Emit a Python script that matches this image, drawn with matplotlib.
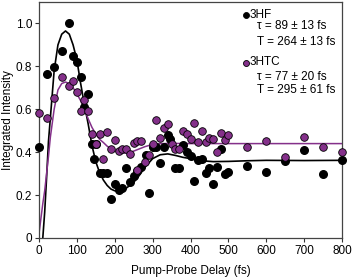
import matplotlib
matplotlib.use("Agg")
import matplotlib.pyplot as plt

plt.rcParams['font.family'] = ['Liberation Sans', 'DejaVu Sans']

# measured points, 3HF (black)
hf_t = [0, 20, 40, 60, 80, 90, 100, 110, 120, 130, 140, 150, 145, 160, 170, 180,
        190, 200, 210, 220, 230, 240, 250, 260, 270, 283, 290, 300, 310, 320, 330,
        340, 347, 360, 370, 380, 390, 400, 410, 420, 430, 440, 450, 460, 470, 480,
        490, 500, 550, 600, 650, 700, 750, 800]
hf_y = [0.425, 0.765, 0.797, 0.87, 1.0, 0.847, 0.82, 0.752, 0.61, 0.672, 0.436, 0.436,
        0.366, 0.304, 0.304, 0.301, 0.18, 0.251, 0.223, 0.231, 0.324, 0.262, 0.287,
        0.312, 0.333, 0.388, 0.208, 0.425, 0.425, 0.35, 0.425, 0.479, 0.462, 0.327,
        0.327, 0.433, 0.401, 0.381, 0.267, 0.363, 0.368, 0.302, 0.324, 0.252, 0.332,
        0.415, 0.297, 0.306, 0.336, 0.306, 0.358, 0.409, 0.298, 0.363]

# measured points, 3HTC (purple)
htc_t = [0, 20, 40, 60, 80, 90, 100, 110, 120, 130, 140, 150, 160, 170, 180, 190,
         200, 210, 220, 230, 240, 250, 260, 260, 270, 280, 290, 300, 310, 320, 330,
         340, 350, 360, 370, 380, 390, 400, 410, 420, 430, 440, 450, 460, 470, 480,
         490, 500, 550, 600, 650, 700, 750, 800]
htc_y = [0.584, 0.557, 0.654, 0.75, 0.707, 0.732, 0.68, 0.592, 0.642, 0.592, 0.487,
         0.437, 0.485, 0.366, 0.496, 0.417, 0.459, 0.407, 0.413, 0.415, 0.392, 0.445,
         0.452, 0.316, 0.453, 0.355, 0.386, 0.44, 0.549, 0.464, 0.515, 0.533, 0.438,
         0.415, 0.415, 0.497, 0.487, 0.462, 0.535, 0.449, 0.499, 0.446, 0.467, 0.46,
         0.399, 0.49, 0.455, 0.482, 0.422, 0.453, 0.378, 0.471, 0.422, 0.399]

# fit curves
hf_fit_t = [10, 15, 20, 25, 30, 40, 50, 60, 70, 80, 90, 100, 110, 120, 130, 140, 150,
            160, 170, 180, 190, 200, 210, 220, 230, 240, 250, 260, 280, 300, 320, 340,
            360, 380, 400, 430, 460, 500, 550, 600, 700, 800]
hf_fit_y = [0.0, 0.12, 0.28, 0.45, 0.56, 0.78, 0.9, 0.95, 0.965, 0.95, 0.9, 0.83, 0.72,
            0.62, 0.53, 0.43, 0.355, 0.305, 0.27, 0.245, 0.228, 0.22, 0.219, 0.223,
            0.232, 0.245, 0.26, 0.28, 0.33, 0.37, 0.388, 0.392, 0.385, 0.376, 0.37,
            0.36, 0.356, 0.357, 0.36, 0.362, 0.361, 0.362]
htc_fit_t = [0, 5, 10, 15, 20, 25, 30, 40, 50, 60, 70, 80, 90, 100, 110, 120, 130, 140,
             150, 160, 170, 180, 190, 200, 210, 220, 230, 240, 250, 260, 280, 300, 320,
             350, 400, 500, 800]
htc_fit_y = [0.02, 0.09, 0.16, 0.22, 0.3, 0.38, 0.47, 0.6, 0.69, 0.72, 0.727, 0.72, 0.7,
             0.672, 0.64, 0.6, 0.555, 0.515, 0.485, 0.46, 0.445, 0.428, 0.415, 0.405,
             0.399, 0.396, 0.396, 0.399, 0.405, 0.412, 0.426, 0.436, 0.44, 0.441, 0.44,
             0.44, 0.44]

purple = '#84308A'

fig = plt.figure(figsize=(3.54, 2.78), dpi=100)
ax = fig.add_axes([39 / 354, 1 - 238 / 278, (342 - 39) / 354, (238 - 2) / 278])

ax.plot(hf_fit_t, hf_fit_y, color='black', lw=1.2, zorder=2)
ax.plot(htc_fit_t, htc_fit_y, color=purple, lw=1.1, zorder=2)
ax.scatter(hf_t, hf_y, s=30, color='black', zorder=3, clip_on=False)
ax.scatter(htc_t, htc_y, s=30, color=purple, edgecolor='black', linewidth=0.6,
           zorder=4, clip_on=False)

ax.set_xlim(0, 800)
ax.set_ylim(0, 1.1)
ax.set_xticks(range(0, 801, 100))
ax.set_yticks([0, 0.2, 0.4, 0.6, 0.8, 1.0])
ax.set_yticklabels(['0', '0.2', '0.4', '0.6', '0.8', '1.0'])
ax.tick_params(direction='out', length=3, width=0.8, labelsize=8.5, pad=2,
               color='#333333')
for s in ax.spines.values():
    s.set_color('#444444')
    s.set_linewidth(0.9)

ax.set_xlabel('Pump-Probe Delay (fs)', fontsize=8.5, labelpad=6)


def px(x, y):
    return x / 354, 1 - y / 278


fig.text(*px(8, 120), 'Integrated Intensity', fontsize=8.5, rotation=90,
         ha='center', va='center')

# legend-like annotations
for y, c in [(15, 'black'), (63, purple)]:
    fig.lines.append(plt.Line2D([px(246, y)[0]], [px(246, y)[1]], marker='o',
                                markersize=4.3, color=c, markeredgecolor='black',
                                markeredgewidth=0.6, transform=fig.transFigure))
fig.text(*px(250, 15), '3HF', fontsize=8.5, va='center')
fig.text(*px(257, 26), '\u03c4 = 89 \u00b1 13 fs', fontsize=8.5, va='center')
fig.text(*px(257, 42), 'T = 264 \u00b1 13 fs', fontsize=8.5, va='center')
fig.text(*px(250, 62), '3HTC', fontsize=8.5, va='center')
fig.text(*px(257, 77), '\u03c4 = 77 \u00b1 20 fs', fontsize=8.5, va='center')
fig.text(*px(257, 90), 'T = 295 \u00b1 61 fs', fontsize=8.5, va='center')

fig.savefig('out.png', dpi=100)
